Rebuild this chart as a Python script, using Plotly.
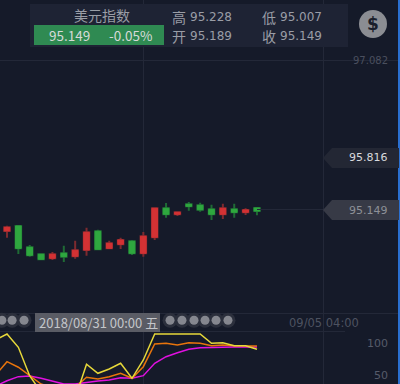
import plotly.graph_objects as go

BG = "#151a29"
GRID = "#232838"
RED = "#d33234"
GREEN = "#2fa83f"
RED_DIM = "#7d2a2f"
GREEN_DIM = "#1f6b35"
CJK = "Noto Sans CJK SC"
SANS = "DejaVu Sans"

candle_index = list(range(23))
opens = [94.871, 94.935, 94.659, 94.569, 94.517, 94.582, 94.543, 94.624, 94.867, 94.646, 94.698, 94.737,
         94.582, 94.789, 95.165, 95.087, 95.216, 95.203, 95.152, 95.087, 95.152, 95.113, 95.168]
highs = [94.939, 94.935, 94.689, 94.573, 94.599, 94.680, 94.745, 94.913, 94.887, 94.745, 94.784, 94.754,
         94.858, 95.165, 95.233, 95.121, 95.246, 95.237, 95.211, 95.224, 95.224, 95.165, 95.178]
lows = [94.784, 94.573, 94.538, 94.500, 94.495, 94.469, 94.512, 94.551, 94.624, 94.637, 94.637, 94.560,
        94.538, 94.754, 95.043, 95.065, 95.133, 95.121, 95.013, 95.026, 95.043, 95.078, 95.074]
closes = [94.918, 94.646, 94.556, 94.504, 94.569, 94.538, 94.621, 94.854, 94.634, 94.711, 94.754, 94.582,
          94.802, 95.165, 95.087, 95.113, 95.190, 95.146, 95.087, 95.165, 95.113, 95.143, 95.130]

line_index = list(range(-1, 23))
kdj_yellow = [104.7, 114.2, 93.2, 48, 22.7, 18, 25, 13, 66.4, 52.2, 59, 68, 44.3, 73.2, 114.2, 114.2, 114.2,
              114.2, 114.2, 99.5, 100.5, 95.7, 95.7, 90]
kdj_orange = [49.5, 70.5, 61.7, 48, 35.3, 30, 28, 30, 45.9, 43.2, 46.9, 52.2, 44.3, 62.6, 98.4, 99.5, 96.8,
              100.5, 99.5, 95.7, 96.8, 95.7, 95.7, 95.3]
kdj_magenta = [32, 40.5, 46.9, 48, 44.3, 40, 35.3, 35.3, 38, 40, 41.7, 45.3, 44.3, 48.4, 68, 78.4, 84.7, 90,
               92.6, 93.2, 93.7, 93.7, 93.7, 93.7]

price_ticks = [97.082, 93.808]
price_tick_text = ["97.082", ""]
osc_ticks = [100, 50]
time_ticks = [12, 27.9]
dot_index = [-0.45, 0.45, 1.5, 14.35, 15.4, 16.46, 17.43, 18.4, 19.45]
dot_price = [93.714] * len(dot_index)

fig = go.Figure()
fig.add_trace(go.Candlestick(x=candle_index, open=opens, high=highs, low=lows, close=closes,
                             increasing=dict(line=dict(color=RED_DIM, width=2), fillcolor=RED_DIM),
                             decreasing=dict(line=dict(color=GREEN_DIM, width=2), fillcolor=GREEN_DIM),
                             whiskerwidth=0, showlegend=False, hoverinfo="skip"))
fig.add_trace(go.Candlestick(x=candle_index, open=opens, close=closes,
                             high=[max(a, b) for a, b in zip(opens, closes)],
                             low=[min(a, b) for a, b in zip(opens, closes)],
                             increasing=dict(line=dict(color=RED, width=1), fillcolor=RED),
                             decreasing=dict(line=dict(color=GREEN, width=1), fillcolor=GREEN),
                             whiskerwidth=0, showlegend=False, hoverinfo="skip"))
fig.add_trace(go.Scatter(x=dot_index, y=dot_price, mode="markers", showlegend=False, hoverinfo="skip",
                         marker=dict(size=15, color="#2b2f3c", line=dict(width=0))))
fig.add_trace(go.Scatter(x=dot_index, y=dot_price, mode="markers", showlegend=False, hoverinfo="skip",
                         marker=dict(size=9, color="#85878f", line=dict(width=0))))
for values, color in [(kdj_magenta, "#e010e0"), (kdj_orange, "#e8740c"), (kdj_yellow, "#e6d83a")]:
    fig.add_trace(go.Scatter(x=line_index, y=values, mode="lines", xaxis="x2", yaxis="y2", showlegend=False,
                             line=dict(color=color, width=1.5), hoverinfo="skip"))

axis_x = dict(range=[-0.616, 34.59], tickmode="array", tickvals=time_ticks, showticklabels=False,
              showgrid=True, gridcolor=GRID, gridwidth=1, zeroline=False, showline=False,
              rangeslider=dict(visible=False))
fig.update_layout(
    width=400, height=384, margin=dict(l=0, r=0, t=0, b=0), autosize=False,
    paper_bgcolor=BG, plot_bgcolor=BG, showlegend=False,
    xaxis=dict(axis_x, domain=[0, 1], anchor="y"),
    xaxis2=dict(axis_x, domain=[0, 1], anchor="y2"),
    yaxis=dict(domain=[53 / 384, 1], range=[93.575, 97.863], side="right", tickmode="array",
               tickvals=price_ticks, ticktext=price_tick_text, ticklabelposition="inside",
               tickfont=dict(family=SANS, size=10, color="#4a4f5e"), showgrid=True, gridcolor=GRID,
               zeroline=False, showline=False, ticklabelstandoff=9),
    yaxis2=dict(domain=[0, 53 / 384], range=[35.3, 118.9], side="right", tickmode="array", tickvals=osc_ticks,
                ticklabelposition="inside", tickfont=dict(family=SANS, size=11, color="#565b6a"),
                showgrid=False, zeroline=False, showline=False, ticklabelstandoff=9),
)


def px_x(v):
    return v / 400


def px_y(v):
    return 1 - v / 384


def rect(x0, y0, x1, y1, fill, layer="above"):
    fig.add_shape(type="rect", xref="paper", yref="paper", x0=px_x(x0), x1=px_x(x1), y0=px_y(y0), y1=px_y(y1),
                  fillcolor=fill, line=dict(width=0), layer=layer)


def tag(top, bottom, fill):
    mid = (top + bottom) / 2
    pts = [(323, mid), (332, top), (399, top), (399, bottom), (332, bottom)]
    path = "M " + " L ".join(f"{px_x(a):.5f} {px_y(b):.5f}" for a, b in pts) + " Z"
    fig.add_shape(type="path", xref="paper", yref="paper", path=path, fillcolor=fill, line=dict(width=0))


def label(x, y, text, size, color, anchor="center", family=CJK):
    fig.add_annotation(xref="paper", yref="paper", x=px_x(x), y=px_y(y), text=text, showarrow=False,
                       xanchor=anchor, yanchor="middle", font=dict(family=family, size=size, color=color))


# last price line and strip separators
fig.add_shape(type="line", xref="paper", yref="paper", x0=px_x(257), x1=px_x(323), y0=px_y(209.5), y1=px_y(209.5),
              line=dict(color=GRID, width=1))
fig.add_shape(type="line", xref="paper", yref="paper", x0=0, x1=px_x(345), y0=px_y(331.5), y1=px_y(331.5),
              line=dict(color=GRID, width=1))
rect(398, 0, 400, 384, "#2a6fd0")

# header
rect(30, 4, 348, 47, "#1e2334")
rect(34, 25, 164, 45, "#2f8a52")
label(102, 15, "美元指数", 14, "#9a9da6")
label(69, 35, "95.149", 13.5, "#d6dad8")
label(130, 35, "-0.05%", 13.5, "#d6dad8")
for x, y, text in [(170, 17, "高"), (170, 36, "开"), (260, 17, "低"), (260, 36, "收")]:
    label(x, y, text, 14, "#9a9da6", "left")
for x, y, text in [(188, 17, "95.228"), (188, 36, "95.189"), (278, 17, "95.007"), (278, 36, "95.149")]:
    label(x, y, text, 12, "#9a9da6", "left", SANS)
fig.add_shape(type="circle", xref="paper", yref="paper", x0=px_x(359), x1=px_x(387), y0=px_y(10), y1=px_y(38),
              fillcolor="#8b8d93", line=dict(width=0))
label(373, 24, "<b>$</b>", 17, "#1a1e2b", family=SANS)

# price tags
tag(148, 168, "#232734")
tag(200, 220, "#373a46")
label(390, 158, "95.816", 11, "#d8dade", "right", SANS)
label(390, 210, "95.149", 11, "#8d9097", "right", SANS)

# time labels
rect(35, 313, 160, 332, "#5a5c65")
label(98, 322.5, "2018/08/31 00:00 五", 13, "#c4c6ca")
label(324, 323, "09/05 04:00", 11.5, "#4d5260", family=SANS)

fig.write_html("out.html", post_script="document.body.style.margin='0';", config=dict(displayModeBar=False))
